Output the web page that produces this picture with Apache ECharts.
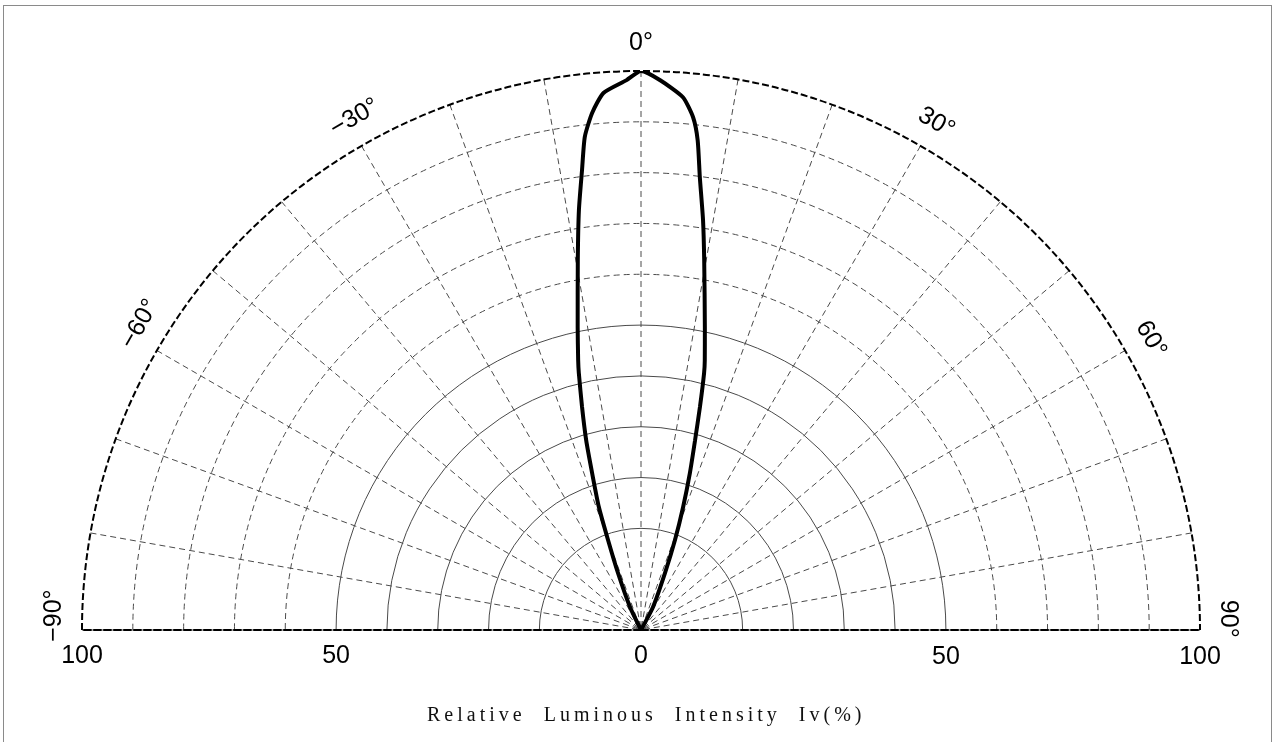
<!DOCTYPE html>
<html>
<head>
<meta charset="utf-8">
<script src="https://cdn.jsdelivr.net/npm/echarts@6/dist/echarts.min.js"></script>
<style>
html, body { margin: 0; padding: 0; background: #fff; }
#frame { position: absolute; left: 3px; top: 5px; width: 1269px; height: 745px; border: 1px solid #8a8a8a; box-sizing: border-box; }
#luminousChart { position: absolute; left: 0; top: 0; width: 1276px; height: 742px; }
</style>
</head>
<body>
<div id="frame"></div>
<div id="luminousChart"></div>
<script>
// 光强分布曲线 (角度, 相对光强%)
var curveAngles = [-30, -25.6, -22.0, -20.1, -18.9, -17.3, -16.1, -14.8, -13.6, -13.1, -11.8, -9.7, -8.4, -7.3, -6.5, -5.4, -4.0, -1.5,
	0, 2.0, 4.5, 5.8, 6.6, 7.4, 8.6, 9.7, 11.9, 13.3, 13.8, 14.8, 15.9, 17.3, 18.9, 20.7, 22.8, 27.6, 30];
var curveValues = [0, 4.6, 11.0, 17.2, 23.3, 29.4, 35.4, 41.3, 47.3, 49.6, 55.4, 67.1, 76.0, 83.0, 88.8, 92.9, 96.3, 98.4,
	100, 98.4, 95.6, 92.2, 88.2, 81.7, 74.2, 67.1, 55.4, 49.6, 47.3, 41.3, 35.3, 29.4, 23.3, 17.2, 11.1, 4.6, 0];

// 角度刻度
var angleLabelValues = [-90, -60, -30, 0, 30, 60, 90];
var angleLabelTexts = ['\u221290\u00b0', '\u221260\u00b0', '\u221230\u00b0', '0\u00b0', '30\u00b0', '60\u00b0', '90\u00b0'];
var angleLabelPlace = [-88.6, -58.6, -29.2, 0, 30.2, 60.3, 88.9];

// 半径刻度 (中心记作 0)
var radiusLabelValues = [-10, 50, 100];
var radiusLabelTexts = ['0', '50', '100'];

var xTitle = 'Relative  Luminous  Intensity  Iv(%)';

var T = 'rgba(0,0,0,0)';
var G = '#4a4a4a';

var myChart = echarts.init(document.getElementById('luminousChart'));

var curveData = [];
for (var i = 0; i < curveAngles.length; i++) {
	curveData.push([curveValues[i], curveAngles[i]]);
}
var labelData = [];
for (var j = 0; j < angleLabelValues.length; j++) {
	labelData.push({ value: [100, angleLabelPlace[j]], label: { rotate: -angleLabelValues[j], formatter: angleLabelTexts[j] } });
}

function radiusLabel(skipCenter) {
	return function (v) {
		var k = radiusLabelValues.indexOf(v);
		if (k < 0 || (skipCenter && v === -10)) return '';
		return radiusLabelTexts[k];
	};
}

var option = {
	animation: false,
	backgroundColor: 'transparent',
	title: {
		// 字间距用细空格
		text: xTitle.split('').join('\u2009'),
		left: 422,
		top: 701,
		textStyle: { fontFamily: 'Liberation Serif', fontSize: 20, fontWeight: 'normal', color: '#111' }
	},
	polar: [
		{ center: [641, 630], radius: 559 },
		{ center: [641, 630], radius: 559 },
		{ center: [641, 630], radius: 559 },
		{ center: [641, 630], radius: 587 }
	],
	angleAxis: [
		{
			polarIndex: 0, type: 'value', min: -90, max: 90, interval: 10,
			startAngle: 180, endAngle: 0, clockwise: true,
			axisLine: { lineStyle: { color: '#000', width: 2, type: [7, 3] } },
			axisTick: { show: false },
			axisLabel: { show: false },
			splitLine: { show: true, lineStyle: { color: G, width: 1, type: [6, 4] } }
		},
		{
			polarIndex: 1, type: 'value', min: -90, max: 90, interval: 10,
			startAngle: 0, endAngle: 180, clockwise: false,
			axisLine: { show: false },
			axisTick: { show: false },
			axisLabel: { show: false },
			splitLine: { show: false }
		},
		{
			polarIndex: 2, type: 'value', min: -90, max: 90,
			startAngle: 180, endAngle: 0, clockwise: true,
			show: false
		},
		{
			polarIndex: 3, type: 'value', min: -90, max: 90,
			startAngle: 180, endAngle: 0, clockwise: true,
			show: false
		}
	],
	radiusAxis: [
		{
			polarIndex: 0, type: 'value', min: -10, max: 100, interval: 10,
			axisLine: { lineStyle: { color: '#000', width: 2, type: [7, 3] } },
			axisTick: { show: false },
			axisLabel: { margin: 14, fontFamily: 'Liberation Sans', fontSize: 25, color: '#000', formatter: radiusLabel(false) },
			splitLine: { show: true, lineStyle: { width: 1, type: 'solid', color: [T, T, G, G, G, G, G, T, T, T, T, T] } }
		},
		{
			polarIndex: 1, type: 'value', min: -10, max: 100, interval: 10,
			axisLine: { lineStyle: { color: '#000', width: 2, type: [7, 3] } },
			axisTick: { show: false },
			axisLabel: { margin: -40, fontFamily: 'Liberation Sans', fontSize: 25, color: '#000', formatter: radiusLabel(true) },
			splitLine: { show: true, lineStyle: { width: 1, type: [6, 4], color: [T, T, T, T, T, T, T, G, G, G, G, T] } }
		},
		{
			polarIndex: 2, type: 'value', min: 0, max: 100,
			show: false
		},
		{
			polarIndex: 3, type: 'value', min: 0, max: 100,
			show: false
		}
	],
	series: [
		{
			name: 'Iv',
			type: 'line',
			coordinateSystem: 'polar',
			polarIndex: 2,
			showSymbol: false,
			smooth: 0.2,
			lineStyle: { color: '#000', width: 4 },
			data: curveData,
			z: 5
		},
		{
			name: 'angleLabels',
			type: 'scatter',
			coordinateSystem: 'polar',
			polarIndex: 3,
			symbolSize: 1,
			silent: true,
			itemStyle: { color: T, opacity: 1 },
			label: { show: true, position: 'inside', fontFamily: 'Liberation Sans', fontSize: 25, color: '#000' },
			data: labelData
		}
	]
};
myChart.clear();
myChart.setOption(option);
</script>
</body>
</html>
